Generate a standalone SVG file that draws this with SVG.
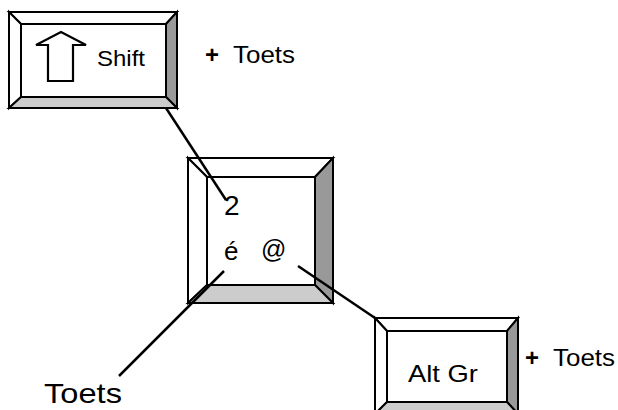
<svg xmlns="http://www.w3.org/2000/svg" width="618" height="410" viewBox="0 0 618 410">
<style>
.face{fill:#ffffff;stroke:#000;stroke-width:2}
.side{fill:#999999;stroke:#000;stroke-width:2}
.bot{fill:#cccccc;stroke:#000;stroke-width:2}
.lt{fill:#ffffff;stroke:#000;stroke-width:2}
.t{font-family:"Liberation Sans",Arial,sans-serif;fill:#000}
.conn{stroke:#000;stroke-width:2.5;fill:none}
</style>
<rect width="618" height="410" fill="#fff"/>
<g id="shift-key">
<polygon class="lt" points="9,12 177,12 166,24 21,24"/>
<polygon class="lt" points="9,12 21,24 21,97 9,108"/>
<polygon class="side" points="177,12 177,108 166,97 166,24"/>
<polygon class="bot" points="9,108 21,97 166,97 177,108"/>
<rect class="face" x="21" y="24" width="145" height="73"/>
<polygon points="61,32 86,45 73,45 73,81 48,81 48,45 36,45" fill="#fff" stroke="#000" stroke-width="2.2" stroke-linejoin="miter"/>
<text class="t" x="97" y="66" font-size="22" textLength="48" lengthAdjust="spacingAndGlyphs">Shift</text>
</g>
<g id="shift-plus">
<text class="t" x="205" y="63" font-size="24" font-weight="bold">+</text>
<text class="t" x="233" y="63" font-size="24" textLength="62" lengthAdjust="spacingAndGlyphs">Toets</text>
</g>
<g id="middle-key">
<polygon class="lt" points="188,158 333,158 315,177 207,177"/>
<polygon class="lt" points="188,158 207,177 207,285 188,303"/>
<polygon class="side" points="333,158 333,303 315,285 315,177"/>
<polygon class="bot" points="188,303 207,285 315,285 333,303"/>
<rect class="face" x="207" y="177" width="108" height="108"/>
<text class="t" x="224" y="215" font-size="28">2</text>
<text class="t" x="224" y="260" font-size="26">é</text>
<text class="t" x="261" y="258" font-size="25">@</text>
</g>
<g id="altgr-key">
<polygon class="lt" points="375,318 518,318 507,331 387,331"/>
<polygon class="lt" points="375,318 387,331 387,402 375,414"/>
<polygon class="side" points="518,318 518,414 507,402 507,331"/>
<polygon class="bot" points="375,414 387,402 507,402 518,414"/>
<rect class="face" x="387" y="331" width="120" height="71"/>
<text class="t" x="408" y="382" font-size="24" textLength="70" lengthAdjust="spacingAndGlyphs">Alt Gr</text>
</g>
<g id="altgr-plus">
<text class="t" x="525" y="366" font-size="24" font-weight="bold">+</text>
<text class="t" x="553" y="366" font-size="24" textLength="62" lengthAdjust="spacingAndGlyphs">Toets</text>
</g>
<g id="toets-label">
<text class="t" x="44" y="403" font-size="28" textLength="78" lengthAdjust="spacingAndGlyphs">Toets</text>
</g>
<g id="connectors">
<line class="conn" x1="166" y1="108" x2="226" y2="200"/>
<line class="conn" x1="224" y1="271" x2="119" y2="376"/>
<line class="conn" x1="298" y1="266" x2="375" y2="318"/>
</g>
</svg>
